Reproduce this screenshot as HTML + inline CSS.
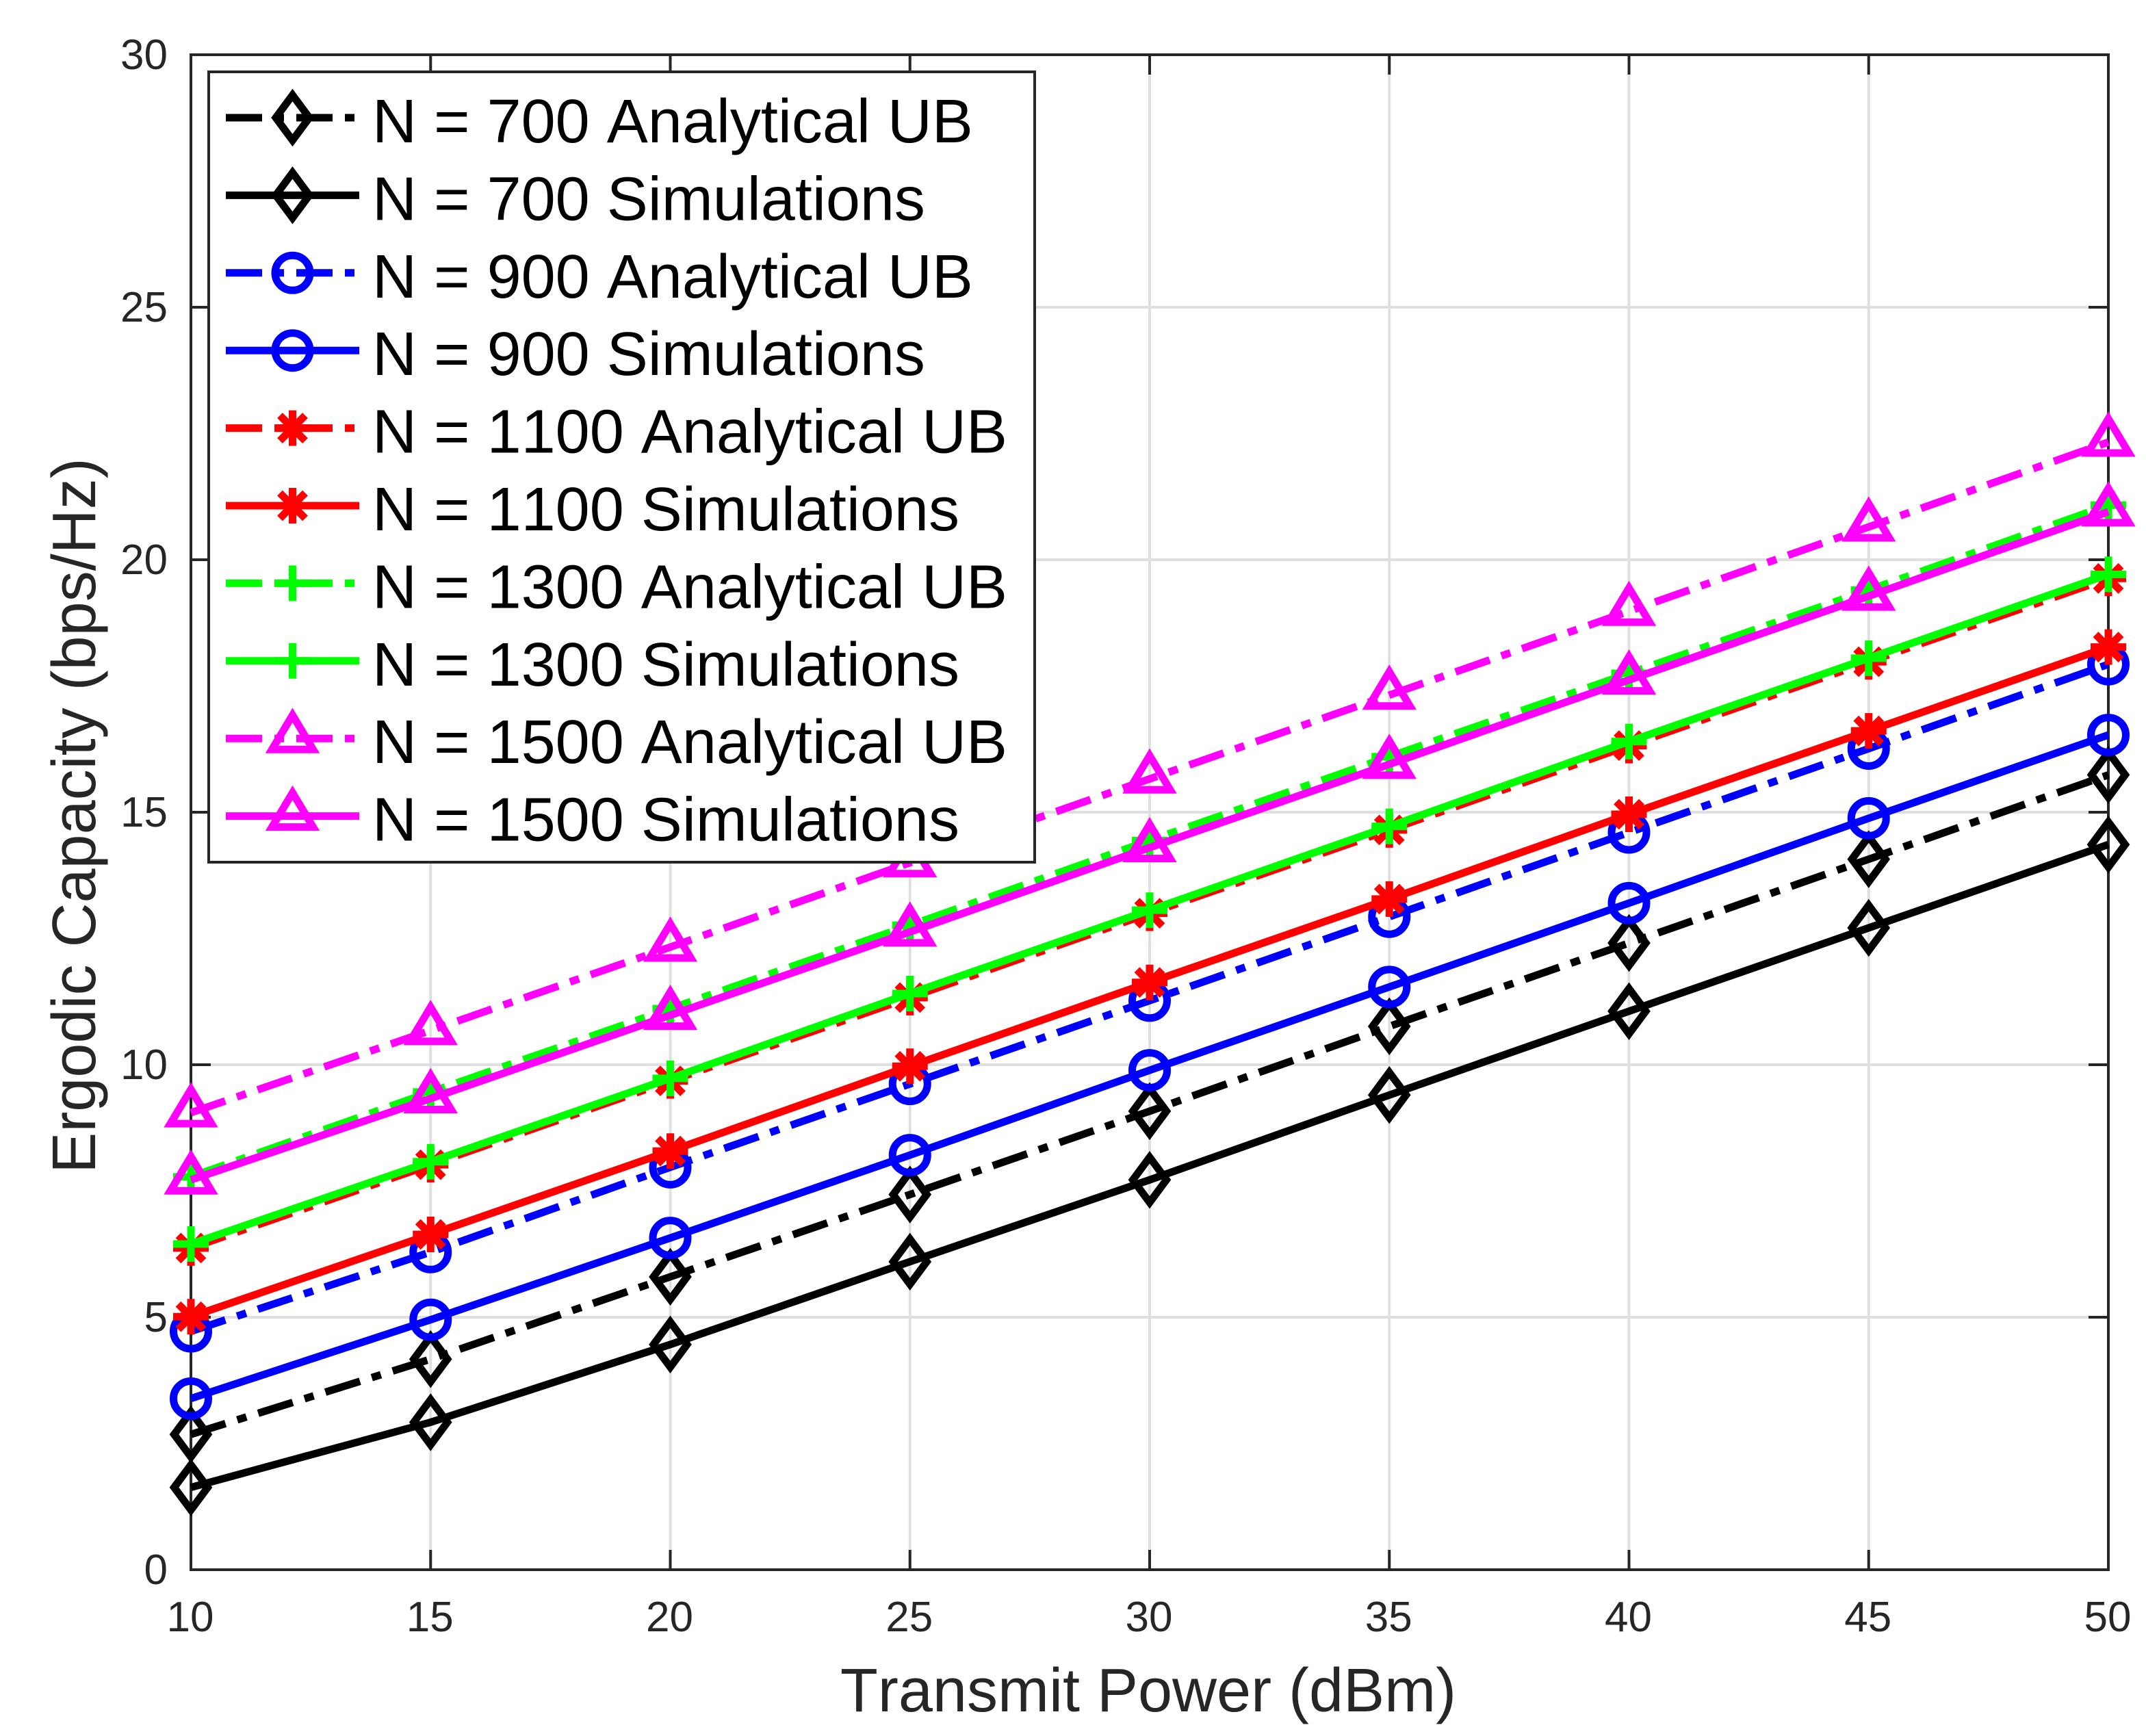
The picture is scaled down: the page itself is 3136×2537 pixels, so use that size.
<!DOCTYPE html>
<html lang="en">
<head>
<meta charset="utf-8">
<title>Ergodic Capacity vs Transmit Power</title>
<style>
html,body{margin:0;padding:0;background:#fff;}
svg{display:block;font-family:"Liberation Sans",Arial,sans-serif;font-kerning:none;font-feature-settings:"kern" 0;}
</style>
</head>
<body>
<svg id="chart" xmlns="http://www.w3.org/2000/svg" width="3136" height="2537" viewBox="0 0 3136 2537">
  <rect x="0" y="0" width="3136" height="2537" fill="#ffffff"/>
  <g id="grid"></g>
  <g id="axes"></g>
  <g id="series"></g>
  <g id="legend"></g>
  <text x="1678" y="2501" font-size="90" text-anchor="middle" fill="#262626">Transmit Power (dBm)</text>
  <text transform="translate(139,1192) rotate(-90)" x="0" y="0" font-size="90" text-anchor="middle" fill="#262626">Ergodic Capacity (bps/Hz)</text>
</svg>
<script>
const powerCategories = [10, 15, 20, 25, 30, 35, 40, 45, 50];
const xTickLabels = ['10', '15', '20', '25', '30', '35', '40', '45', '50'];
const yTickValues = [0, 5, 10, 15, 20, 25, 30];
const yTickLabels = ['0', '5', '10', '15', '20', '25', '30'];

const n700Analytical = [2.68, 4.17, 5.80, 7.43, 9.08, 10.76, 12.41, 14.07, 15.74];
const n700Simulations = [1.63, 2.92, 4.46, 6.10, 7.72, 9.40, 11.06, 12.71, 14.36];
const n900Analytical = [4.72, 6.29, 7.97, 9.62, 11.27, 12.93, 14.60, 16.26, 17.93];
const n900Simulations = [3.39, 4.95, 6.57, 8.21, 9.89, 11.54, 13.20, 14.88, 16.53];
const n1100Analytical = [6.37, 8.02, 9.68, 11.33, 13.00, 14.65, 16.32, 17.98, 19.63];
const n1100Simulations = [5.01, 6.64, 8.29, 9.97, 11.63, 13.28, 14.96, 16.61, 18.27];
const n1300Analytical = [7.78, 9.46, 11.11, 12.76, 14.44, 16.10, 17.75, 19.40, 21.08];
const n1300Simulations = [6.45, 8.08, 9.73, 11.41, 13.06, 14.72, 16.40, 18.05, 19.71];
const n1500Analytical = [9.05, 10.68, 12.33, 14.00, 15.66, 17.32, 18.98, 20.65, 22.33];
const n1500Simulations = [7.72, 9.33, 10.98, 12.63, 14.30, 15.95, 17.62, 19.28, 20.95];

const seriesLabels = [
  'N = 700 Analytical UB', 'N = 700 Simulations',
  'N = 900 Analytical UB', 'N = 900 Simulations',
  'N = 1100 Analytical UB', 'N = 1100 Simulations',
  'N = 1300 Analytical UB', 'N = 1300 Simulations',
  'N = 1500 Analytical UB', 'N = 1500 Simulations'
];
const seriesValues = [
  n700Analytical, n700Simulations,
  n900Analytical, n900Simulations,
  n1100Analytical, n1100Simulations,
  n1300Analytical, n1300Simulations,
  n1500Analytical, n1500Simulations
];
const seriesColors = ['#000000', '#000000', '#0000ff', '#0000ff', '#ff0000', '#ff0000', '#00ff00', '#00ff00', '#ff00ff', '#ff00ff'];
const seriesMarkers = ['diamond', 'diamond', 'circle', 'circle', 'asterisk', 'asterisk', 'plus', 'plus', 'triangle', 'triangle'];
const seriesDashed = [true, false, true, false, true, false, true, false, true, false];

const SVGNS = 'http://www.w3.org/2000/svg';
const AX_L = 279, AX_R = 3081, AX_T = 80, AX_B = 2294;
const X_MIN = 10, X_MAX = 50, Y_MIN = 0, Y_MAX = 30;
const AXIS_COLOR = '#262626', GRID_COLOR = '#dfdfdf';
const LINE_W = 11, MARKER_W = 11, DASH = '53 18 14 18';

function xScale(v) { return AX_L + (v - X_MIN) / (X_MAX - X_MIN) * (AX_R - AX_L); }
function yScale(v) { return AX_B - (v - Y_MIN) / (Y_MAX - Y_MIN) * (AX_B - AX_T); }

function make(tag, attrs, parent) {
  const node = document.createElementNS(SVGNS, tag);
  for (const k in attrs) node.setAttribute(k, attrs[k]);
  parent.appendChild(node);
  return node;
}

function drawMarker(kind, cx, cy, color, parent) {
  const g = make('g', { transform: 'translate(' + cx + ',' + cy + ')', fill: 'none', stroke: color, 'stroke-width': MARKER_W }, parent);
  if (kind === 'diamond') {
    make('polygon', { points: '0,-33 24.5,0 0,33 -24.5,0' }, g);
  } else if (kind === 'circle') {
    make('circle', { cx: 0, cy: 0, r: 25.5 }, g);
  } else if (kind === 'triangle') {
    make('polygon', { points: '0,-34 30,16 -30,16' }, g);
  } else if (kind === 'plus') {
    make('path', { d: 'M-26 0H26M0 -26V26' }, g);
  } else if (kind === 'asterisk') {
    make('path', { d: 'M-26 0H26M0 -26V26M-18.5 -18.5L18.5 18.5M-18.5 18.5L18.5 -18.5' }, g);
  }
  return g;
}

const gridG = document.getElementById('grid');
const axesG = document.getElementById('axes');
const seriesG = document.getElementById('series');
const legendG = document.getElementById('legend');

/* grid */
powerCategories.forEach(function (v) {
  const line = make('line', { x1: xScale(v), x2: xScale(v), y1: AX_T, y2: AX_B, stroke: GRID_COLOR, 'stroke-width': 4 }, gridG);
  
  
});
yTickValues.forEach(function (v) {
  const line = make('line', { x1: AX_L, x2: AX_R, y1: yScale(v), y2: yScale(v), stroke: GRID_COLOR, 'stroke-width': 4 }, gridG);
  
  
});

/* axes box, ticks, labels */
const box = make('rect', { x: AX_L, y: AX_T, width: AX_R - AX_L, height: AX_B - AX_T, fill: 'none', stroke: AXIS_COLOR, 'stroke-width': 4 }, axesG);



powerCategories.forEach(function (v, i) {
  const x = xScale(v);
  const tick = make('path', { d: 'M' + x + ' ' + AX_B + 'V' + (AX_B - 29) + 'M' + x + ' ' + AX_T + 'V' + (AX_T + 29), stroke: AXIS_COLOR, 'stroke-width': 4, fill: 'none' }, axesG);
  
  
  const label = make('text', { x: x - 1, y: 2384, 'font-size': 62, 'text-anchor': 'middle', fill: AXIS_COLOR }, axesG);
  label.textContent = xTickLabels[i];
  
  
});
yTickValues.forEach(function (v, i) {
  const y = yScale(v);
  const tick = make('path', { d: 'M' + AX_L + ' ' + y + 'H' + (AX_L + 29) + 'M' + AX_R + ' ' + y + 'H' + (AX_R - 29), stroke: AXIS_COLOR, 'stroke-width': 4, fill: 'none' }, axesG);
  
  
  const label = make('text', { x: 245, y: y + 21, 'font-size': 62, 'text-anchor': 'end', fill: AXIS_COLOR }, axesG);
  label.textContent = yTickLabels[i];
  
  
});

/* series */
seriesValues.forEach(function (values, s) {
  const g = make('g', {}, seriesG);
  
  
  const pts = values.map(function (v, i) { return xScale(powerCategories[i]) + ',' + yScale(v); }).join(' ');
  const attrs = { points: pts, fill: 'none', stroke: seriesColors[s], 'stroke-width': LINE_W, 'stroke-linejoin': 'round' };
  if (seriesDashed[s]) attrs['stroke-dasharray'] = DASH;
  const line = make('polyline', attrs, g);
  
  
  values.forEach(function (v, i) {
    const m = drawMarker(seriesMarkers[s], xScale(powerCategories[i]), yScale(v), seriesColors[s], g);
    
    
  });
});

/* legend */
const legendBox = make('rect', { x: 305, y: 105, width: 1207, height: 1155, fill: '#ffffff', stroke: AXIS_COLOR, 'stroke-width': 4 }, legendG);


seriesLabels.forEach(function (text, s) {
  const y = 172 + s * 113.4;
  const g = make('g', {}, legendG);
  
  
  const attrs = { x1: 330, x2: 525, y1: y, y2: y, stroke: seriesColors[s], 'stroke-width': LINE_W };
  if (seriesDashed[s]) attrs['stroke-dasharray'] = DASH;
  const sample = make('line', attrs, g);
  
  
  const mk = drawMarker(seriesMarkers[s], 427.5, y, seriesColors[s], g);
  
  
  const label = make('text', { x: 544, y: y + 36, 'font-size': 90, fill: '#000000' }, g);
  label.textContent = text;
  
  
});
</script>
</body>
</html>
